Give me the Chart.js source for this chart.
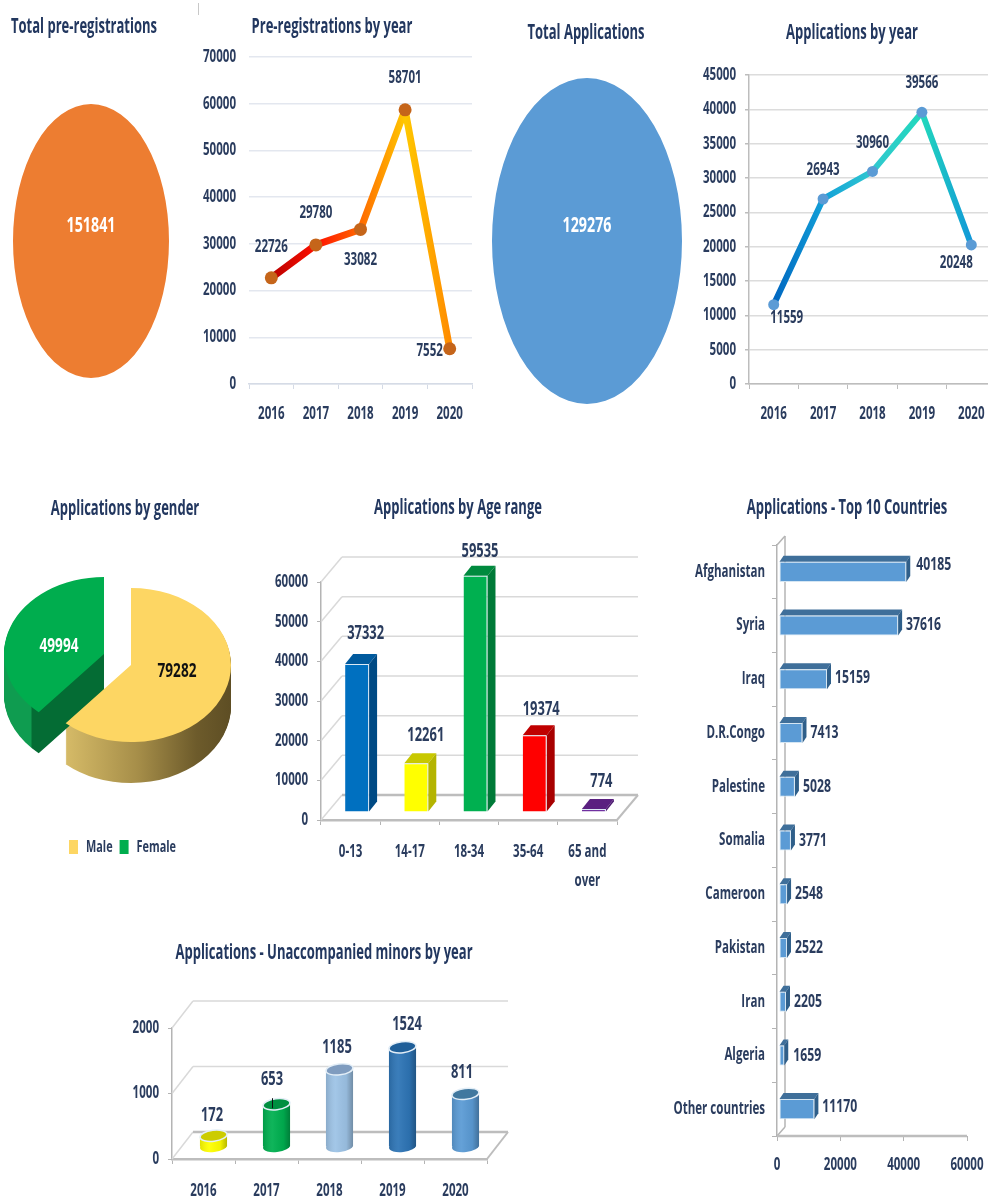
<!DOCTYPE html>
<html>
<head>
<meta charset="utf-8">
<title>Applications dashboard</title>
<script src="https://cdn.jsdelivr.net/npm/chart.js@4"></script>
<style>
  html, body { margin: 0; padding: 0; background: #fff; overflow: hidden; }
  #page { position: relative; width: 988px; height: 1200px; overflow: hidden; filter: blur(0.4px); }
  #page canvas { position: absolute; }
  .title {
    position: absolute; transform: translate(-50%, -50%) scaleX(0.62); white-space: nowrap;
    font: 700 21px "Open Sans", sans-serif; color: #22375f;
  }
  #mark { position: absolute; left: 198px; top: 3px; width: 1px; height: 12px; background: #c8c8c8; }
</style>
</head>
<body>
<div id="page"><div id="mark"></div></div>
<script>
// values
const years = ["2016", "2017", "2018", "2019", "2020"];
const preRegByYear = [22726, 29780, 33082, 58701, 7552];
const appsByYear = [11559, 26943, 30960, 39566, 20248];
const totalPreReg = [151841];
const totalApps = [129276];
const genderLabels = ["Male", "Female"];
const genderValues = [79282, 49994];
const ageLabels = ["0-13", "14-17", "18-34", "35-64", ["65 and", "over"]];
const ageValues = [37332, 12261, 59535, 19374, 774];
const minorsValues = [172, 653, 1185, 1524, 811];
const countries = ["Afghanistan", "Syria", "Iraq", "D.R.Congo", "Palestine", "Somalia", "Cameroon", "Pakistan", "Iran", "Algeria", "Other countries"];
const countryValues = [40185, 37616, 15159, 7413, 5028, 3771, 2548, 2522, 2205, 1659, 11170];

const fontFamily = '"Open Sans", sans-serif';
const textColor = "#2a3c5e";
const page = document.getElementById("page");

// no condensed font is installed, so squeeze all canvas text sideways around its anchor
const textSqueeze = 0.68;
const proto = CanvasRenderingContext2D.prototype;
const plainFillText = proto.fillText;
const plainMeasureText = proto.measureText;
proto.fillText = function (text, x, y) {
  this.save();
  this.translate(x, y);
  this.scale(textSqueeze, 1);
  plainFillText.call(this, text, 0, 0);
  this.restore();
};
proto.measureText = function (text) {
  return { width: plainMeasureText.call(this, text).width * textSqueeze };
};

Chart.defaults.animation = false;
Chart.defaults.events = [];
Chart.defaults.plugins.tooltip.enabled = false;
Chart.defaults.plugins.legend.display = false;
Chart.defaults.responsive = false;
Chart.defaults.font.family = fontFamily;
Chart.defaults.font.weight = "700";
Chart.defaults.font.size = 17;
Chart.defaults.color = textColor;
const plainNumber = { useGrouping: false };

function addTitle(text, x, y) {
  const d = document.createElement("div");
  d.className = "title";
  d.textContent = text;
  d.style.left = x + "px";
  d.style.top = y + "px";
  page.appendChild(d);
}

function addCanvas(left, top, width, height) {
  const c = document.createElement("canvas");
  c.width = width;
  c.height = height;
  c.style.left = left + "px";
  c.style.top = top + "px";
  page.appendChild(c);
  return c;
}

// canvas around a plot box, with the axis sizes pinned so the plot lands where the reference has it
function plotFrame(l, t, r, b, ml, mt, mr, mb) {
  return {
    canvas: addCanvas(l - ml, t - mt, r - l + ml + mr, b - t + mt + mb),
    padding: { left: 0, top: mt, right: mr, bottom: 0 },
    fitY: s => { s.width = ml; },
    fitX: s => { s.height = mb; }
  };
}

// number labels next to each mark
const valueLabels = {
  id: "valueLabels",
  afterDraw(chart, args, o) {
    const ctx = chart.ctx;
    const meta = chart.getDatasetMeta(0);
    ctx.save();
    ctx.font = "700 " + (o.size || 18) + "px " + fontFamily;
    ctx.textAlign = o.align || "center";
    ctx.textBaseline = "middle";
    meta.data.forEach((el, i) => {
      ctx.fillStyle = o.colors ? o.colors[i] : textColor;
      ctx.fillText(chart.data.datasets[0].data[i], el.x + o.dx[i], el.y + o.dy[i]);
    });
    ctx.restore();
  }
};

// squashes or stretches a pie into an ellipse, optional explode and extruded wall
const ellipsePie = {
  id: "ellipsePie",
  beforeDatasetsDraw(chart, args, o) {
    const ctx = chart.ctx;
    const arcs = chart.getDatasetMeta(0).data;
    ctx.save();
    ctx.translate(0, o.cy);
    ctx.scale(1, o.sy);
    ctx.translate(0, -o.cy);
    arcs.forEach((arc, i) => {
      const shift = o.shifts ? o.shifts[i] : [0, 0];
      arc.x = o.cx + shift[0];
      arc.y = o.cy + shift[1] / o.sy;
    });
    if (!o.depth) return;
    arcs.forEach((arc, i) => {
      const grad = ctx.createLinearGradient(o.walls[i].from, 0, o.walls[i].to, 0);
      o.walls[i].stops.forEach(s => grad.addColorStop(s[0], s[1]));
      ctx.fillStyle = grad;
      for (let d = o.depth; d > 0; d--) {
        const y = arc.y + d / o.sy;
        ctx.beginPath();
        ctx.moveTo(arc.x, y);
        ctx.arc(arc.x, y, arc.outerRadius, arc.startAngle, arc.endAngle);
        ctx.closePath();
        ctx.fill();
      }
    });
  },
  afterDatasetsDraw(chart) {
    chart.ctx.restore();
  }
};

function poly(ctx, color, pts) {
  ctx.fillStyle = color;
  ctx.beginPath();
  pts.forEach((p, i) => (i ? ctx.lineTo(p[0], p[1]) : ctx.moveTo(p[0], p[1])));
  ctx.closePath();
  ctx.fill();
}

function seg(ctx, color, width, x1, y1, x2, y2) {
  ctx.strokeStyle = color;
  ctx.lineWidth = width;
  ctx.beginPath();
  ctx.moveTo(x1, y1);
  ctx.lineTo(x2, y2);
  ctx.stroke();
}

// back wall and floor of the 3D column charts
const columnWalls = {
  id: "columnWalls",
  beforeDatasetsDraw(chart, args, o) {
    const ctx = chart.ctx;
    const { left, right } = chart.chartArea;
    const ys = chart.scales.y;
    ys.ticks.forEach(t => {
      const y = ys.getPixelForValue(t.value);
      const c = t.value === 0 ? "#bdbdbd" : "#d9d9d9";
      const w = t.value === 0 ? 2.5 : 1.5;
      seg(ctx, "#d9d9d9", 1.5, left, y, left + o.wx, y - o.wy);
      seg(ctx, c, w, left + o.wx, y - o.wy, right + o.wx, y - o.wy);
    });
    const y0 = ys.getPixelForValue(0);
    seg(ctx, "#bdbdbd", 2, right, y0, right + o.wx, y0 - o.wy);
    // bars stand a little behind the front edge of the floor
    ctx.save();
    ctx.translate(o.barX, o.barY);
    if (o.side) {
      chart.getDatasetMeta(0).data.forEach((el, i) => {
        const x1 = el.x - el.width / 2, x2 = el.x + el.width / 2;
        poly(ctx, o.top[i], [[x1, el.y], [x2, el.y], [x2 + o.dx, el.y - o.dy], [x1 + o.dx, el.y - o.dy]]);
        poly(ctx, o.side[i], [[x2, el.y], [x2 + o.dx, el.y - o.dy], [x2 + o.dx, el.base - o.dy], [x2, el.base]]);
      });
    }
    if (o.cyl) {
      chart.getDatasetMeta(0).data.forEach((el, i) => {
        ctx.fillStyle = chart.data.datasets[0].backgroundColor[i];
        ctx.beginPath();
        ctx.ellipse(el.x, el.base, el.width / 2, o.cyl, -0.12, 0, Math.PI * 2);
        ctx.fill();
      });
    }
  },
  afterDatasetsDraw(chart, args, o) {
    const ctx = chart.ctx;
    if (o.cyl) {
      chart.getDatasetMeta(0).data.forEach((el, i) => {
        const x1 = el.x - el.width / 2, x2 = el.x + el.width / 2;
        const grad = ctx.createLinearGradient(x1, 0, x2, 0);
        grad.addColorStop(0, "rgba(0,0,0,0.12)");
        grad.addColorStop(0.35, "rgba(255,255,255,0.06)");
        grad.addColorStop(0.75, "rgba(0,0,0,0.05)");
        grad.addColorStop(1, "rgba(0,0,0,0.28)");
        ctx.fillStyle = grad;
        ctx.beginPath();
        ctx.ellipse(el.x, el.base, el.width / 2, o.cyl, -0.12, 0, Math.PI * 2);
        ctx.rect(x1, el.y, el.width, el.base - el.y);
        ctx.fill("nonzero");
        ctx.fillStyle = o.top[i];
        ctx.strokeStyle = "#e3eef7";
        ctx.lineWidth = 1.5;
        ctx.beginPath();
        ctx.ellipse(el.x, el.y, el.width / 2, o.cyl, -0.12, 0, Math.PI * 2);
        ctx.fill();
        ctx.stroke();
        // the stray leader line on one column
        if (o.leader === i) seg(ctx, "#111", 1, el.x - 4, el.y - 6, el.x - 4, el.y + 4);
      });
    }
    ctx.restore();
  }
};

// same idea for the horizontal bars: axis drawn double, bars get a top and an end face
const barWalls = {
  id: "barWalls",
  beforeDatasetsDraw(chart, args, o) {
    const ctx = chart.ctx;
    const { left, right, top, bottom } = chart.chartArea;
    seg(ctx, "#b4b4b4", 1.5, left, top, left + o.wx, top - o.wy);
    seg(ctx, "#b4b4b4", 1.5, left + o.wx, top - o.wy, left + o.wx, bottom - o.wy);
    seg(ctx, "#b4b4b4", 1.5, left, bottom, left + o.wx, bottom - o.wy);
    seg(ctx, "#bdbdbd", 2.5, left, bottom, right, bottom);
    ctx.save();
    ctx.translate(o.barX, 0);
    chart.getDatasetMeta(0).data.forEach(el => {
      const y1 = el.y - el.height / 2, y2 = el.y + el.height / 2;
      poly(ctx, o.top, [[el.base, y1], [el.x, y1], [el.x + o.dx, y1 - o.dy], [el.base + o.dx, y1 - o.dy]]);
      poly(ctx, o.side, [[el.x, y1], [el.x + o.dx, y1 - o.dy], [el.x + o.dx, y2 - o.dy], [el.x, y2]]);
    });
  },
  afterDatasetsDraw(chart) {
    chart.ctx.restore();
  }
};

function lineGradient(stops) {
  return ctx => {
    const { chart } = ctx;
    if (!chart.chartArea) return stops[0];
    const { left, right } = chart.chartArea;
    const grad = chart.ctx.createLinearGradient(left, 0, right, 0);
    stops.forEach((c, i) => grad.addColorStop(0.1 + i * 0.2, c));
    return grad;
  };
}

function lineChart(frame, values, maxY, step, o) {
  return new Chart(frame.canvas, {
    type: "line",
    plugins: [valueLabels],
    data: {
      labels: years,
      datasets: [{
        data: values, clip: false,
        borderColor: lineGradient(o.stops), borderWidth: o.lineWidth, borderCapStyle: "round", borderJoinStyle: "round",
        pointRadius: o.pointRadius, pointBackgroundColor: o.pointColor, pointBorderWidth: 0
      }]
    },
    options: {
      layout: { padding: frame.padding },
      plugins: { valueLabels: { dx: o.dx, dy: o.dy, size: 17 } },
      scales: {
        x: {
          offset: true, afterFit: frame.fitX,
          grid: { offset: true, drawOnChartArea: false, tickLength: 5, color: o.axisColor },
          border: { color: o.axisColor, width: 1.5 },
          ticks: { padding: 15, maxRotation: 0 }
        },
        y: {
          min: 0, max: maxY, afterFit: frame.fitY,
          grid: { color: o.gridColor, lineWidth: 1.5, drawTicks: o.yTicks, tickLength: 4, tickColor: o.axisColor },
          border: { display: o.yTicks, color: o.axisColor, width: 1.5 },
          ticks: { stepSize: step, padding: o.yPad, format: plainNumber }
        }
      }
    }
  });
}

function ellipseChart(left, top, width, height, value, color, cx, cy, rx, ry) {
  return new Chart(addCanvas(left, top, width, height), {
    type: "pie",
    plugins: [ellipsePie, valueLabels],
    data: { labels: ["Total"], datasets: [{ data: value, backgroundColor: [color], borderWidth: 0, radius: rx, clip: false }] },
    options: {
      plugins: {
        ellipsePie: { cx: cx - left, cy: cy - top, sy: ry / rx },
        valueLabels: { dx: [0], dy: [-15], colors: ["#fff"], size: 21 }
      }
    }
  });
}

// top row
addTitle("Total pre-registrations", 84, 25);
ellipseChart(0, 90, 190, 300, totalPreReg, "#ed7d31", 91, 241, 78, 137);

addTitle("Pre-registrations by year", 332, 25);
lineChart(plotFrame(249, 57, 472, 384, 59, 30, 30, 56), preRegByYear, 70000, 10000, {
  stops: ["#b80000", "#ff1000", "#ff6a00", "#ffc800", "#ff8c00"],
  lineWidth: 7, pointRadius: 6.5, pointColor: "#c5651a",
  gridColor: "#e3e7ef", axisColor: "#d5dbe6", yTicks: false, yPad: 13,
  dx: [0, 0, 0, 0, -20], dy: [-31, -32, 31, -32, 2]
});

addTitle("Total Applications", 586, 31);
ellipseChart(485, 70, 205, 340, totalApps, "#5b9bd5", 587, 241, 95, 163);

addTitle("Applications by year", 852, 31);
lineChart(plotFrame(749, 75, 996, 384, 59, 30, 30, 56), appsByYear, 45000, 5000, {
  stops: ["#0066c0", "#12a0d8", "#30c8d0", "#22d8bc", "#1098d8"],
  lineWidth: 6, pointRadius: 5.5, pointColor: "#5b9bd5",
  gridColor: "#dcdcdc", axisColor: "#bdbdbd", yTicks: true, yPad: 9,
  dx: [13, 0, 0, 0, -15], dy: [14, -29, -28, -29, 18]
});

// gender pie with one slice pulled out
addTitle("Applications by gender", 125, 507);
new Chart(addCanvas(0, 540, 245, 325), {
  type: "pie",
  plugins: [ellipsePie, valueLabels],
  data: {
    labels: genderLabels,
    datasets: [{ data: genderValues, backgroundColor: ["#fdd663", "#00ad4e"], borderWidth: 0, radius: 100, clip: false }]
  },
  options: {
    plugins: {
      legend: {
        display: true, position: "bottom",
        labels: { boxWidth: 9, boxHeight: 14, padding: 7, font: { size: 16 }, color: textColor }
      },
      ellipsePie: {
        cx: 131, cy: 125, sy: 0.77, depth: 41,
        shifts: [[0, 0], [-27, -11]],
        walls: [
          { from: 62, to: 230, stops: [[0, "#d8bd69"], [0.45, "#a68e49"], [0.8, "#6d5b2b"], [1, "#5e4e24"]] },
          { from: 5, to: 105, stops: [[0, "#0f9c50"], [0.26, "#0f9c50"], [0.27, "#046c34"], [1, "#046c34"]] }
        ]
      },
      valueLabels: { dx: [46, -45], dy: [6, -4], colors: ["#111", "#fff"], size: 20 }
    }
  }
});

// age range columns
addTitle("Applications by Age range", 458, 506);
const ageFrame = plotFrame(321, 582, 617, 820, 60, 62, 24, 75);
new Chart(ageFrame.canvas, {
  type: "bar",
  plugins: [columnWalls, valueLabels],
  data: {
    labels: ageLabels,
    datasets: [{
      data: ageValues, clip: false, categoryPercentage: 1, barPercentage: 0.405,
      backgroundColor: ["#0070c0", "#ffff00", "#00b050", "#ff0000", "#7030a0"],
      borderColor: "#dbe9f4", borderWidth: { top: 1, right: 1 }, borderSkipped: "bottom"
    }]
  },
  options: {
    layout: { padding: ageFrame.padding },
    plugins: {
      columnWalls: {
        wx: 21, wy: 25, barX: 6.5, barY: -8, dx: 8, dy: 10,
        top: ["#005a9e", "#c8c800", "#008a3e", "#c00000", "#5a2080"],
        side: ["#004a84", "#b4b400", "#007a38", "#a80000", "#4c1a70"]
      },
      valueLabels: { dx: [15, 16, 11, 13, 14], dy: [-38, -36, -32, -34, -35], size: 19 }
    },
    scales: {
      x: {
        afterFit: ageFrame.fitX,
        grid: { offset: true, drawOnChartArea: false, tickLength: 5, color: "#b4b4b4" },
        border: { color: "#bdbdbd", width: 2.5 },
        ticks: { padding: 13, maxRotation: 0, font: { lineHeight: 1.7 } }
      },
      y: {
        min: 0, max: 60000, afterFit: ageFrame.fitY,
        grid: { drawOnChartArea: false, tickLength: 4, color: "#b4b4b4" },
        border: { color: "#b4b4b4", width: 1.5 },
        ticks: { stepSize: 10000, padding: 9, format: plainNumber }
      }
    }
  }
});

// unaccompanied minors cylinders
addTitle("Applications - Unaccompanied minors by year", 324, 951);
const minorsFrame = plotFrame(172, 1028, 487, 1159, 50, 62, 24, 41);
new Chart(minorsFrame.canvas, {
  type: "bar",
  plugins: [columnWalls, valueLabels],
  data: {
    labels: years,
    datasets: [{
      data: minorsValues, clip: false, categoryPercentage: 1, barPercentage: 0.43,
      backgroundColor: ["#ffff00", "#00b050", "#9dc3e6", "#2e75b6", "#5b9bd5"],
      borderWidth: 0
    }]
  },
  options: {
    layout: { padding: minorsFrame.padding },
    plugins: {
      columnWalls: {
        wx: 21, wy: 27, barX: 10, barY: -12, cyl: 5.5, leader: 1,
        top: ["#cccc00", "#008f40", "#7f9cbf", "#1f5f99", "#41789f"]
      },
      valueLabels: { dx: [8.5, 5.5, 7.5, 14.5, 6.5], dy: [-32, -37, -34, -35, -33], size: 19 }
    },
    scales: {
      x: {
        afterFit: minorsFrame.fitX,
        grid: { offset: true, drawOnChartArea: false, tickLength: 5, color: "#b4b4b4" },
        border: { color: "#bdbdbd", width: 2.5 },
        ticks: { padding: 17, maxRotation: 0 }
      },
      y: {
        min: 0, max: 2000, afterFit: minorsFrame.fitY,
        grid: { drawOnChartArea: false, tickLength: 4, color: "#b4b4b4" },
        border: { color: "#b4b4b4", width: 1.5 },
        ticks: { stepSize: 1000, padding: 9, format: plainNumber }
      }
    }
  }
});

// top 10 countries
addTitle("Applications - Top 10 Countries", 847, 506);
const countryFrame = plotFrame(777, 545, 967, 1136, 112, 30, 40, 50);
new Chart(countryFrame.canvas, {
  type: "bar",
  plugins: [barWalls, valueLabels],
  data: {
    labels: countries,
    datasets: [{
      data: countryValues, clip: false, categoryPercentage: 1, barPercentage: 0.373,
      backgroundColor: "#5b9bd5", borderColor: "#d5e6f3", borderWidth: 1, borderSkipped: false
    }]
  },
  options: {
    indexAxis: "y",
    layout: { padding: countryFrame.padding },
    plugins: {
      barWalls: { wx: 8, wy: 9, barX: 2, dx: 4, dy: 6, top: "#3f6f9a", side: "#2f5f8a" },
      valueLabels: {
        align: "left", size: 18,
        dx: [12, 10, 10, 10, 10, 10, 10, 10, 10, 11, 10],
        dy: [-7, -1, -1, 0, 0, 0, 0, 0, 0, 0, -2]
      }
    },
    scales: {
      y: {
        afterFit: countryFrame.fitY,
        grid: { offset: true, drawOnChartArea: false, tickLength: 5, color: "#b4b4b4" },
        border: { color: "#b4b4b4", width: 1.5 },
        ticks: { padding: 7, autoSkip: false }
      },
      x: {
        min: 0, max: 60000, afterFit: countryFrame.fitX,
        grid: { drawOnChartArea: false, tickLength: 5, color: "#b4b4b4" },
        border: { display: false },
        ticks: { stepSize: 20000, padding: 14, maxRotation: 0, format: plainNumber }
      }
    }
  }
});
</script>
</body>
</html>
